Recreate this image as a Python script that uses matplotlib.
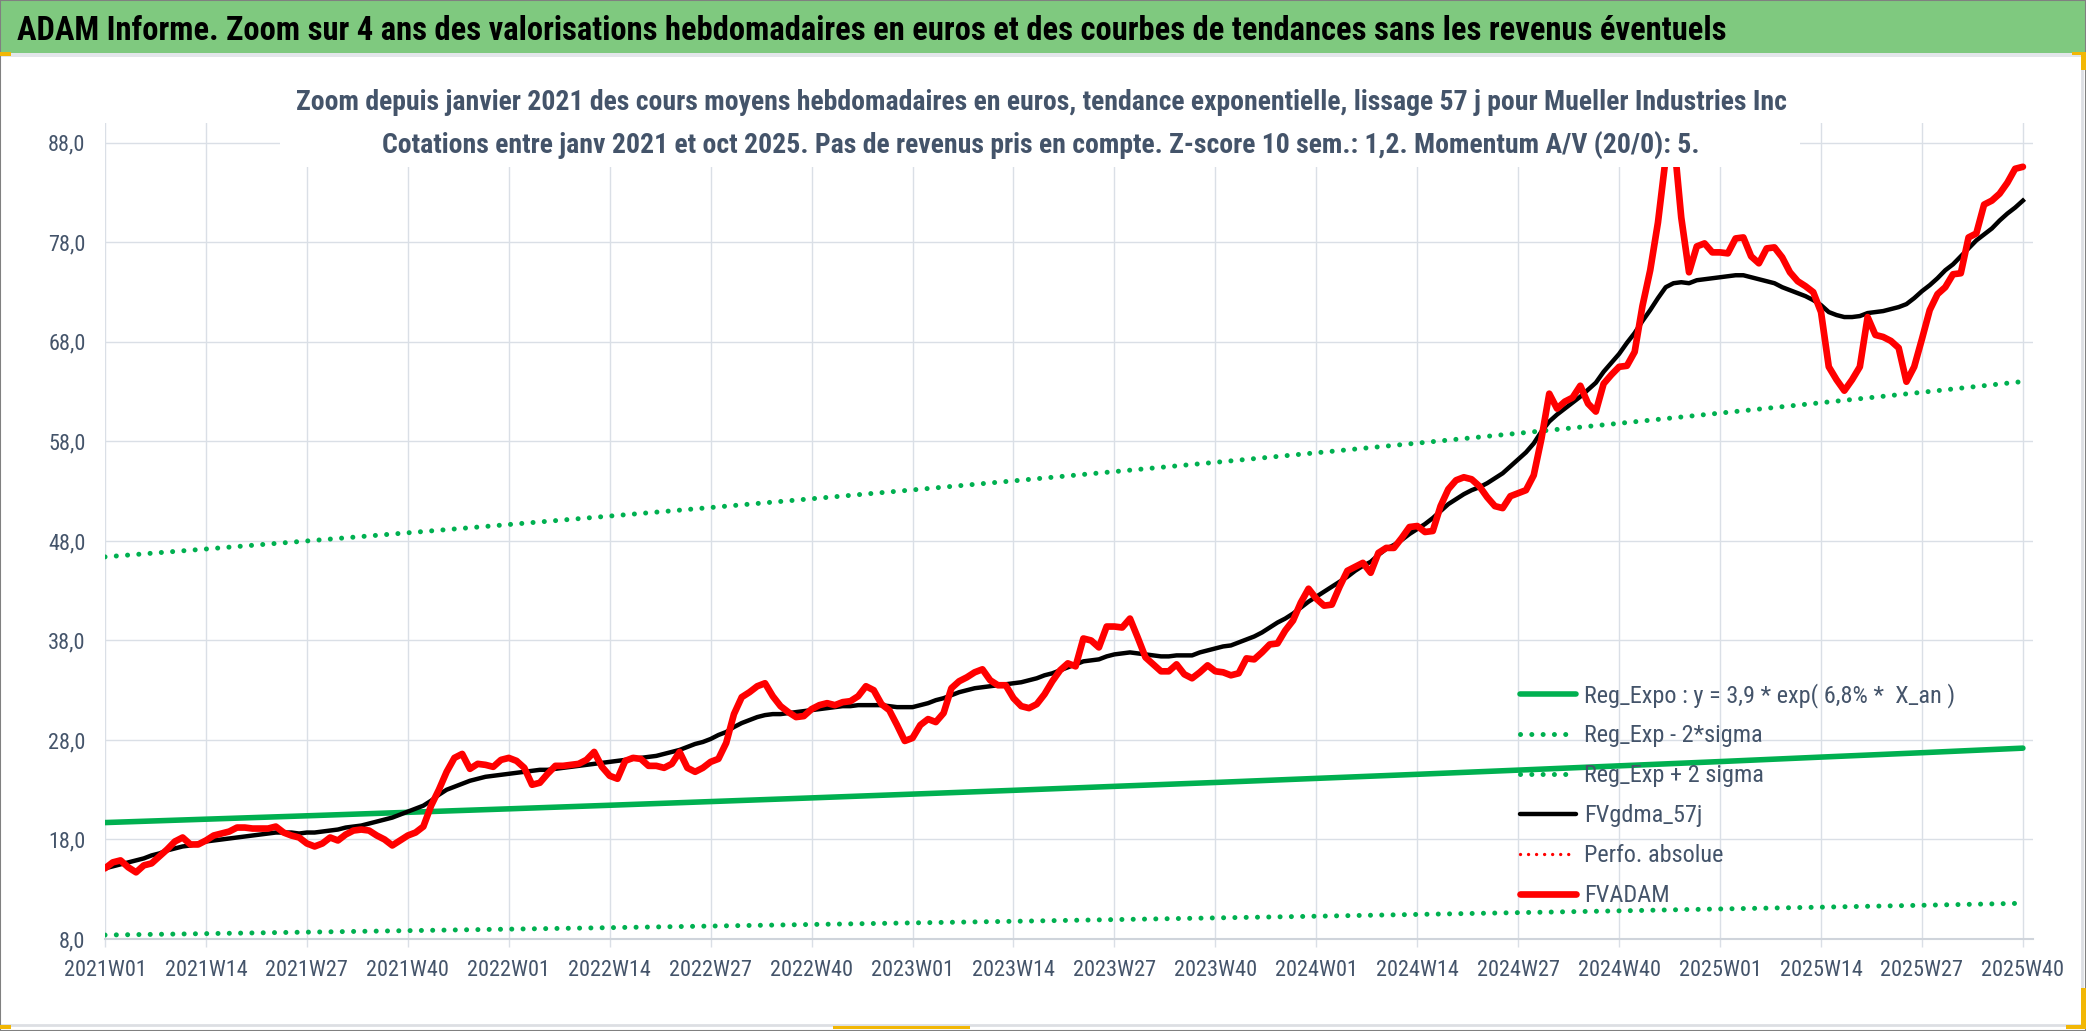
import numpy as np
import matplotlib
matplotlib.use("Agg")
import matplotlib.pyplot as plt
from matplotlib.patches import Rectangle
from matplotlib.lines import Line2D

plt.rcParams['font.family'] = ['Liberation Sans Narrow', 'Roboto Condensed', 'DejaVu Sans Condensed', 'DejaVu Sans']

# ---------------- data ----------------
week_labels = ["2021W01", "2021W14", "2021W27", "2021W40", "2022W01", "2022W14", "2022W27",
               "2022W40", "2023W01", "2023W14", "2023W27", "2023W40", "2024W01", "2024W14",
               "2024W27", "2024W40", "2025W01", "2025W14", "2025W27", "2025W40"]
tick_idx = [0, 13, 26, 39, 52, 65, 78, 91, 104, 117, 130, 143, 156, 169, 182, 195, 208, 221, 234, 247]

ytick_values = [8, 18, 28, 38, 48, 58, 68, 78, 88]
ytick_labels = ["8,0", "18,0", "28,0", "38,0", "48,0", "58,0", "68,0", "78,0", "88,0"]

fvadam = [
    15.1, 15.7, 15.9, 15.2, 14.7, 15.4, 15.6, 16.3, 17.0, 17.8,
    18.2, 17.5, 17.5, 17.9, 18.4, 18.6, 18.8, 19.2, 19.2, 19.1,
    19.1, 19.1, 19.3, 18.7, 18.4, 18.2, 17.6, 17.3, 17.6, 18.2,
    17.9, 18.5, 18.9, 19.0, 18.9, 18.4, 18.0, 17.4, 17.9, 18.4,
    18.7, 19.3, 21.4, 23.0, 24.8, 26.2, 26.6, 25.1, 25.6, 25.5,
    25.3, 26.0, 26.2, 25.9, 25.2, 23.5, 23.7, 24.6, 25.4, 25.4,
    25.5, 25.6, 26.0, 26.8, 25.3, 24.4, 24.1, 25.9, 26.2, 26.1,
    25.4, 25.4, 25.2, 25.6, 26.8, 25.2, 24.8, 25.2, 25.8, 26.1,
    27.7, 30.6, 32.3, 32.8, 33.4, 33.7, 32.4, 31.4, 30.8, 30.3,
    30.4, 31.1, 31.5, 31.7, 31.5, 31.8, 31.9, 32.4, 33.4, 33.0,
    31.6, 31.0, 29.5, 27.9, 28.2, 29.5, 30.1, 29.8, 30.7, 33.2,
    33.9, 34.3, 34.8, 35.1, 34.0, 33.5, 33.5, 32.2, 31.4, 31.2,
    31.6, 32.6, 33.9, 35.0, 35.7, 35.4, 38.2, 38.0, 37.3, 39.4,
    39.4, 39.3, 40.2, 38.3, 36.3, 35.6, 34.9, 34.9, 35.6, 34.6,
    34.2, 34.8, 35.5, 34.9, 34.8, 34.5, 34.7, 36.2, 36.1, 36.8,
    37.6, 37.7, 39.0, 40.0, 41.8, 43.2, 42.2, 41.5, 41.6, 43.4,
    45.0, 45.4, 45.8, 44.8, 46.8, 47.3, 47.3, 48.3, 49.4, 49.5,
    48.9, 49.0, 51.5, 53.2, 54.1, 54.4, 54.2, 53.5, 52.4, 51.5,
    51.3, 52.5, 52.8, 53.1, 54.6, 58.3, 62.8, 61.3, 62.0, 62.4,
    63.6, 61.8, 61.0, 63.8, 64.7, 65.5, 65.6, 67.0, 71.6, 75.2,
    80.0, 86.5, 88.8, 80.5, 75.0, 77.6, 77.9, 77.0, 77.0, 76.9,
    78.4, 78.5, 76.6, 75.9, 77.4, 77.5, 76.5, 75.0, 74.1, 73.6,
    73.0, 71.0, 65.5, 64.2, 63.1, 64.2, 65.5, 70.5, 68.7, 68.5,
    68.1, 67.4, 64.0, 65.5, 68.3, 71.2, 72.8, 73.5, 74.8, 74.9,
    78.5, 78.9, 81.8, 82.2, 82.9, 84.0, 85.4, 85.6,
]

fvgdma_57j = [
    15.1, 15.3, 15.5, 15.7, 15.9, 16.1, 16.4, 16.6, 16.9, 17.1,
    17.3, 17.4, 17.6, 17.8, 17.9, 18.0, 18.1, 18.2, 18.3, 18.4,
    18.5, 18.6, 18.7, 18.7, 18.7, 18.6, 18.7, 18.7, 18.8, 18.9,
    19.0, 19.2, 19.3, 19.4, 19.6, 19.8, 20.0, 20.2, 20.5, 20.8,
    21.1, 21.4, 21.9, 22.5, 23.0, 23.3, 23.6, 23.9, 24.1, 24.3,
    24.4, 24.5, 24.6, 24.7, 24.8, 24.9, 25.0, 25.0, 25.1, 25.2,
    25.3, 25.4, 25.5, 25.6, 25.7, 25.8, 25.9, 26.0, 26.1, 26.2,
    26.3, 26.4, 26.6, 26.8, 27.0, 27.3, 27.6, 27.8, 28.1, 28.5,
    28.8, 29.3, 29.7, 30.0, 30.3, 30.5, 30.6, 30.6, 30.7, 30.8,
    30.9, 31.0, 31.1, 31.2, 31.3, 31.4, 31.4, 31.5, 31.5, 31.5,
    31.5, 31.4, 31.3, 31.3, 31.3, 31.5, 31.7, 32.0, 32.2, 32.5,
    32.8, 33.0, 33.2, 33.3, 33.4, 33.5, 33.6, 33.7, 33.8, 34.0,
    34.2, 34.5, 34.7, 35.0, 35.3, 35.6, 35.9, 36.0, 36.1, 36.4,
    36.6, 36.7, 36.8, 36.7, 36.6, 36.5, 36.4, 36.4, 36.5, 36.5,
    36.5, 36.8, 37.0, 37.2, 37.4, 37.5, 37.8, 38.1, 38.4, 38.8,
    39.3, 39.8, 40.2, 40.7, 41.3, 41.9, 42.4, 42.9, 43.4, 43.9,
    44.4, 45.0, 45.5, 45.9, 46.6, 47.2, 47.6, 48.1, 48.7, 49.2,
    49.7, 50.3, 51.0, 51.7, 52.2, 52.7, 53.1, 53.4, 53.8, 54.3,
    54.8, 55.5, 56.2, 56.9, 57.8, 59.0, 60.0, 60.7, 61.3, 61.9,
    62.5, 63.2, 63.9, 65.0, 65.9, 66.8, 67.9, 68.9, 70.1, 71.2,
    72.4, 73.5, 73.9, 74.0, 73.9, 74.2, 74.3, 74.4, 74.5, 74.6,
    74.7, 74.7, 74.5, 74.3, 74.1, 73.9, 73.5, 73.2, 72.9, 72.6,
    72.2, 71.7, 71.0, 70.7, 70.5, 70.5, 70.6, 70.9, 71.0, 71.1,
    71.3, 71.5, 71.8, 72.4, 73.1, 73.7, 74.4, 75.2, 75.8, 76.6,
    77.4, 78.2, 78.8, 79.4, 80.2, 80.9, 81.5, 82.2,
]

# trend lines, read at each labelled week
reg_expo = [19.7, 20.04, 20.38, 20.73, 21.08, 21.44, 21.81, 22.18, 22.56, 22.94,
            23.34, 23.73, 24.14, 24.55, 24.97, 25.4, 25.83, 26.28, 26.72, 27.18]
reg_minus_2sigma = [8.4, 8.54, 8.69, 8.84, 8.99, 9.14, 9.3, 9.46, 9.62, 9.78,
                    9.95, 10.12, 10.29, 10.47, 10.65, 10.83, 11.02, 11.2, 11.39, 11.59]
reg_plus_2sigma = [46.4, 47.19, 48.0, 48.82, 49.65, 50.5, 51.36, 52.24, 53.13, 54.04,
                   54.97, 55.9, 56.86, 57.83, 58.82, 59.82, 60.85, 61.89, 62.94, 64.02]

legend_labels = ["Reg_Expo : y = 3,9 * exp( 6,8% *  X_an )", "Reg_Exp - 2*sigma",
                 "Reg_Exp + 2 sigma", "FVgdma_57j", "Perfo. absolue", "FVADAM"]

title_text = ("ADAM Informe. Zoom sur 4 ans des valorisations hebdomadaires en euros "
              "et des courbes de tendances sans les revenus éventuels")
subtitle_1 = ("Zoom depuis janvier 2021 des cours moyens hebdomadaires en euros, tendance "
              "exponentielle, lissage 57 j pour Mueller Industries Inc")
subtitle_2 = ("Cotations entre janv 2021 et oct 2025. Pas de revenus pris en compte. "
              "Z-score 10 sem.: 1,2. Momentum A/V (20/0): 5.")

# ---------------- styles ----------------
W, H, DPI = 2086, 1031, 100
GREEN = "#00B050"
RED = "#FF0000"
TXT = "#44546A"
GRID = "#DADFE6"
BAR = "#7FC97F"
DOTS = (0, (0.01, 2.25))


def fx(px):
    return px / W


def fy(py):
    return 1 - py / H


fig = plt.figure(figsize=(W / DPI, H / DPI), dpi=DPI)
fig.patch.set_facecolor("white")

ax = fig.add_axes([fx(105), fy(939), fx(2033) - fx(105), fy(123) - fy(939)])
weeks = np.arange(len(fvadam))

ax.plot(tick_idx, reg_expo, color=GREEN, lw=4.0, solid_capstyle="round", zorder=2)
ax.plot(tick_idx, reg_minus_2sigma, color=GREEN, lw=3.6, linestyle=DOTS,
        dash_capstyle="round", zorder=2)
ax.plot(tick_idx, reg_plus_2sigma, color=GREEN, lw=3.6, linestyle=DOTS,
        dash_capstyle="round", zorder=2)
ax.plot(weeks, fvgdma_57j, color="black", lw=3.2, solid_joinstyle="round", zorder=3)
ax.plot(weeks, fvadam, color=RED, lw=4.8, solid_joinstyle="round",
        solid_capstyle="round", zorder=4)

ax.set_xlim(0, 248.3)
ax.set_ylim(8, 90)
ax.set_yticks(ytick_values)
ax.set_yticklabels(ytick_labels)
ax.set_xticks(tick_idx)
ax.set_xticklabels(week_labels)
ax.grid(True, color=GRID, lw=1.0)
ax.set_axisbelow(True)
for s in ["top", "right", "left"]:
    ax.spines[s].set_visible(False)
ax.spines["bottom"].set_color("#CFD4DB")
ax.spines["bottom"].set_linewidth(1.5)
ax.tick_params(axis="x", length=5.8, width=1.0, color=GRID, pad=9,
               labelsize=16, labelcolor=TXT)
ax.tick_params(axis="y", length=0, pad=14, labelsize=16, labelcolor=TXT)

# ---------------- title bar & frame ----------------
fig.add_artist(Rectangle((0, fy(53)), 1, 1 - fy(53), transform=fig.transFigure,
                         facecolor=BAR, edgecolor="none", zorder=1))
fig.add_artist(Rectangle((0, fy(57)), 1, fy(53) - fy(57), transform=fig.transFigure,
                         facecolor="#E3E6EA", edgecolor="none", zorder=1))
fig.text(fx(17), fy(40), title_text, ha="left", va="baseline", fontsize=23.5,
         fontweight="bold", color="black", zorder=5)

# white box behind the subtitle (hides grid under it)
fig.add_artist(Rectangle((fx(280), fy(167)), fx(1800) - fx(280), fy(60) - fy(167),
                         transform=fig.transFigure, facecolor="white",
                         edgecolor="none", zorder=1))
fig.text(fx(1041), fy(110), subtitle_1, ha="center", va="baseline", fontsize=20,
         fontweight="bold", color=TXT, zorder=5)
fig.text(fx(1041), fy(153), subtitle_2, ha="center", va="baseline", fontsize=20,
         fontweight="bold", color=TXT, zorder=5)

# outer frame lines
fig.add_artist(Line2D([0, fx(2082)], [fy(1025), fy(1025)], transform=fig.transFigure,
                      color="#DDDFE3", lw=2.0, zorder=1))
fig.add_artist(Line2D([fx(2082), fx(2082)], [fy(57), fy(1025)], transform=fig.transFigure,
                      color="#DDDFE3", lw=2.0, zorder=1))
fig.add_artist(Rectangle((0, 0), 1, 1, transform=fig.transFigure, fill=False,
                         edgecolor="#808080", lw=1.5, zorder=6))
for (x0, y0, x1, y1) in [(0, 52, 11, 56), (2081, 52, 2086, 70), (2072, 52, 2086, 55),
                         (2081, 988, 2086, 1029), (2066, 1025, 2086, 1029),
                         (0, 1025, 11, 1029), (833, 1026, 970, 1029)]:
    fig.add_artist(Rectangle((fx(x0), fy(y1)), fx(x1) - fx(x0), fy(y0) - fy(y1),
                             transform=fig.transFigure, facecolor="#F2B705",
                             edgecolor="none", zorder=6))

# ---------------- legend ----------------
leg_styles = [
    dict(color=GREEN, lw=4.0, solid_capstyle="round"),
    dict(color=GREEN, lw=3.6, linestyle=DOTS, dash_capstyle="round"),
    dict(color=GREEN, lw=3.6, linestyle=DOTS, dash_capstyle="round"),
    dict(color="black", lw=3.2, solid_capstyle="round"),
    dict(color=RED, lw=2.4, linestyle=(0, (0.01, 2.4)), dash_capstyle="round"),
    dict(color=RED, lw=4.8, solid_capstyle="round"),
]
for i, (lab, st) in enumerate(zip(legend_labels, leg_styles)):
    yy = 694 + 40 * i
    fig.add_artist(Line2D([fx(1520), fx(1576)], [fy(yy), fy(yy)],
                          transform=fig.transFigure, zorder=5, **st))
    fig.text(fx(1584), fy(yy + 8), lab, ha="left", va="baseline", fontsize=17.5,
             color=TXT, zorder=5)

fig.savefig("out.png", dpi=DPI, facecolor="white")
